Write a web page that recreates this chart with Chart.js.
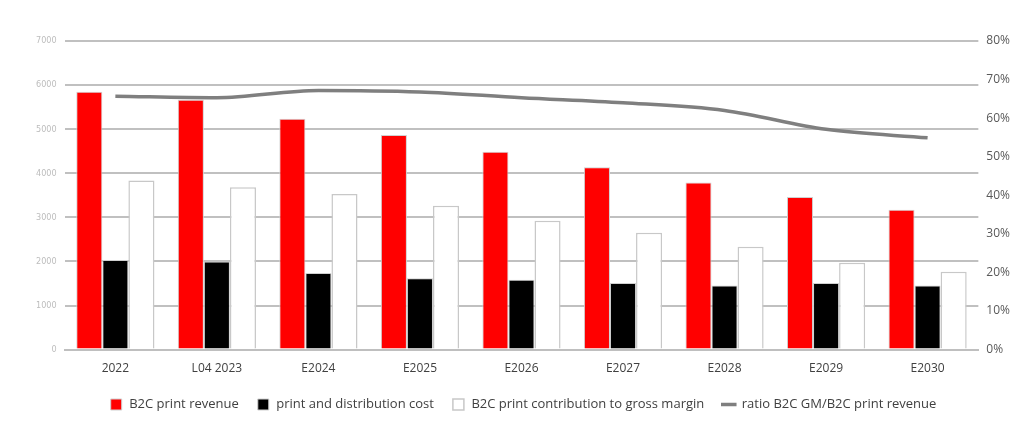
<!DOCTYPE html>
<html lang="en">
<head>
  <meta charset="UTF-8" />
  <title>B2C print</title>
  <script src="https://cdn.jsdelivr.net/npm/chart.js"></script>
  <style>
    html, body { margin: 0; padding: 0; background: white; }
    #wrap { width: 1024px; height: 447px; }
  </style>
</head>
<body>
  <div id="wrap"><canvas id="chart"></canvas></div>
  <script>
    const years = ['2022', 'L04 2023', 'E2024', 'E2025', 'E2026', 'E2027', 'E2028', 'E2029', 'E2030'];
    const revenue = [5850, 5670, 5235, 4865, 4490, 4135, 3790, 3460, 3175];
    const printCost = [2030, 2000, 1735, 1620, 1585, 1510, 1455, 1510, 1455];
    const grossMargin = [3835, 3680, 3530, 3265, 2925, 2650, 2335, 1970, 1765];
    const gmRatio = [0.657, 0.653, 0.672, 0.668, 0.653, 0.640, 0.620, 0.571, 0.549];
    const leftTicks = [0, 1000, 2000, 3000, 4000, 5000, 6000, 7000];

    const ctx = document.getElementById('chart').getContext('2d');
    new Chart(ctx, {
      data: {
        labels: years,
        datasets: [
          {
            type: 'bar', label: 'B2C print revenue', data: revenue,
            backgroundColor: '#ff0000', borderColor: '#d0d0d0', borderWidth: 1,
            yAxisID: 'y', pointStyle: 'rect', order: 2
          },
          {
            type: 'bar', label: 'print and distribution cost', data: printCost,
            backgroundColor: '#000000', borderColor: '#d0d0d0', borderWidth: 1,
            yAxisID: 'y', pointStyle: 'rect', order: 2
          },
          {
            type: 'bar', label: 'B2C print contribution to gross margin', data: grossMargin,
            backgroundColor: '#ffffff', borderColor: '#c8c8c8', borderWidth: 1.5,
            yAxisID: 'y', pointStyle: 'rect', order: 2
          },
          {
            type: 'line', label: 'ratio B2C GM/B2C print revenue', data: gmRatio,
            borderColor: '#7f7f7f', backgroundColor: '#7f7f7f', borderWidth: 3.5,
            pointRadius: 0, tension: 0.4, cubicInterpolationMode: 'monotone',
            yAxisID: 'y1', pointStyle: 'line', order: 1
          }
        ]
      },
      options: {
        responsive: true,
        maintainAspectRatio: false,
        animation: false,
        layout: { padding: { left: 28, right: 6, top: 41, bottom: 26 } },
        datasets: { bar: { categoryPercentage: 0.77, barPercentage: 1.0 } },
        plugins: {
          tooltip: { enabled: false },
          legend: {
            position: 'bottom',
            labels: {
              usePointStyle: true,
              boxHeight: 11,
              padding: 18,
              color: '#404040',
              font: { family: 'Open Sans', size: 13 },
              sort: (a, b) => a.datasetIndex - b.datasetIndex
            }
          }
        },
        scales: {
          x: {
            grid: { display: false },
            border: { color: '#bfbfbf', width: 2 },
            ticks: { color: '#404040', font: { family: 'Open Sans', size: 12 }, padding: 4 }
          },
          y: {
            position: 'left', min: 0, max: 7000,
            afterBuildTicks: axis => { axis.ticks = leftTicks.map(v => ({ value: v })); },
            grid: { color: '#c0c0c0', lineWidth: 2, drawTicks: false },
            border: { display: false },
            ticks: {
              color: '#bdbdbd', font: { family: 'DejaVu Sans Condensed', size: 9 }, padding: 8,
              callback: v => String(v)
            }
          },
          y1: {
            position: 'right', min: 0, max: 0.8,
            grid: { drawOnChartArea: false, drawTicks: false },
            border: { display: false },
            ticks: {
              stepSize: 0.1, padding: 8,
              color: '#595959', font: { family: 'Open Sans', size: 12 },
              callback: v => Math.round(v * 100) + '%'
            }
          }
        }
      }
    });
  </script>
</body>
</html>
